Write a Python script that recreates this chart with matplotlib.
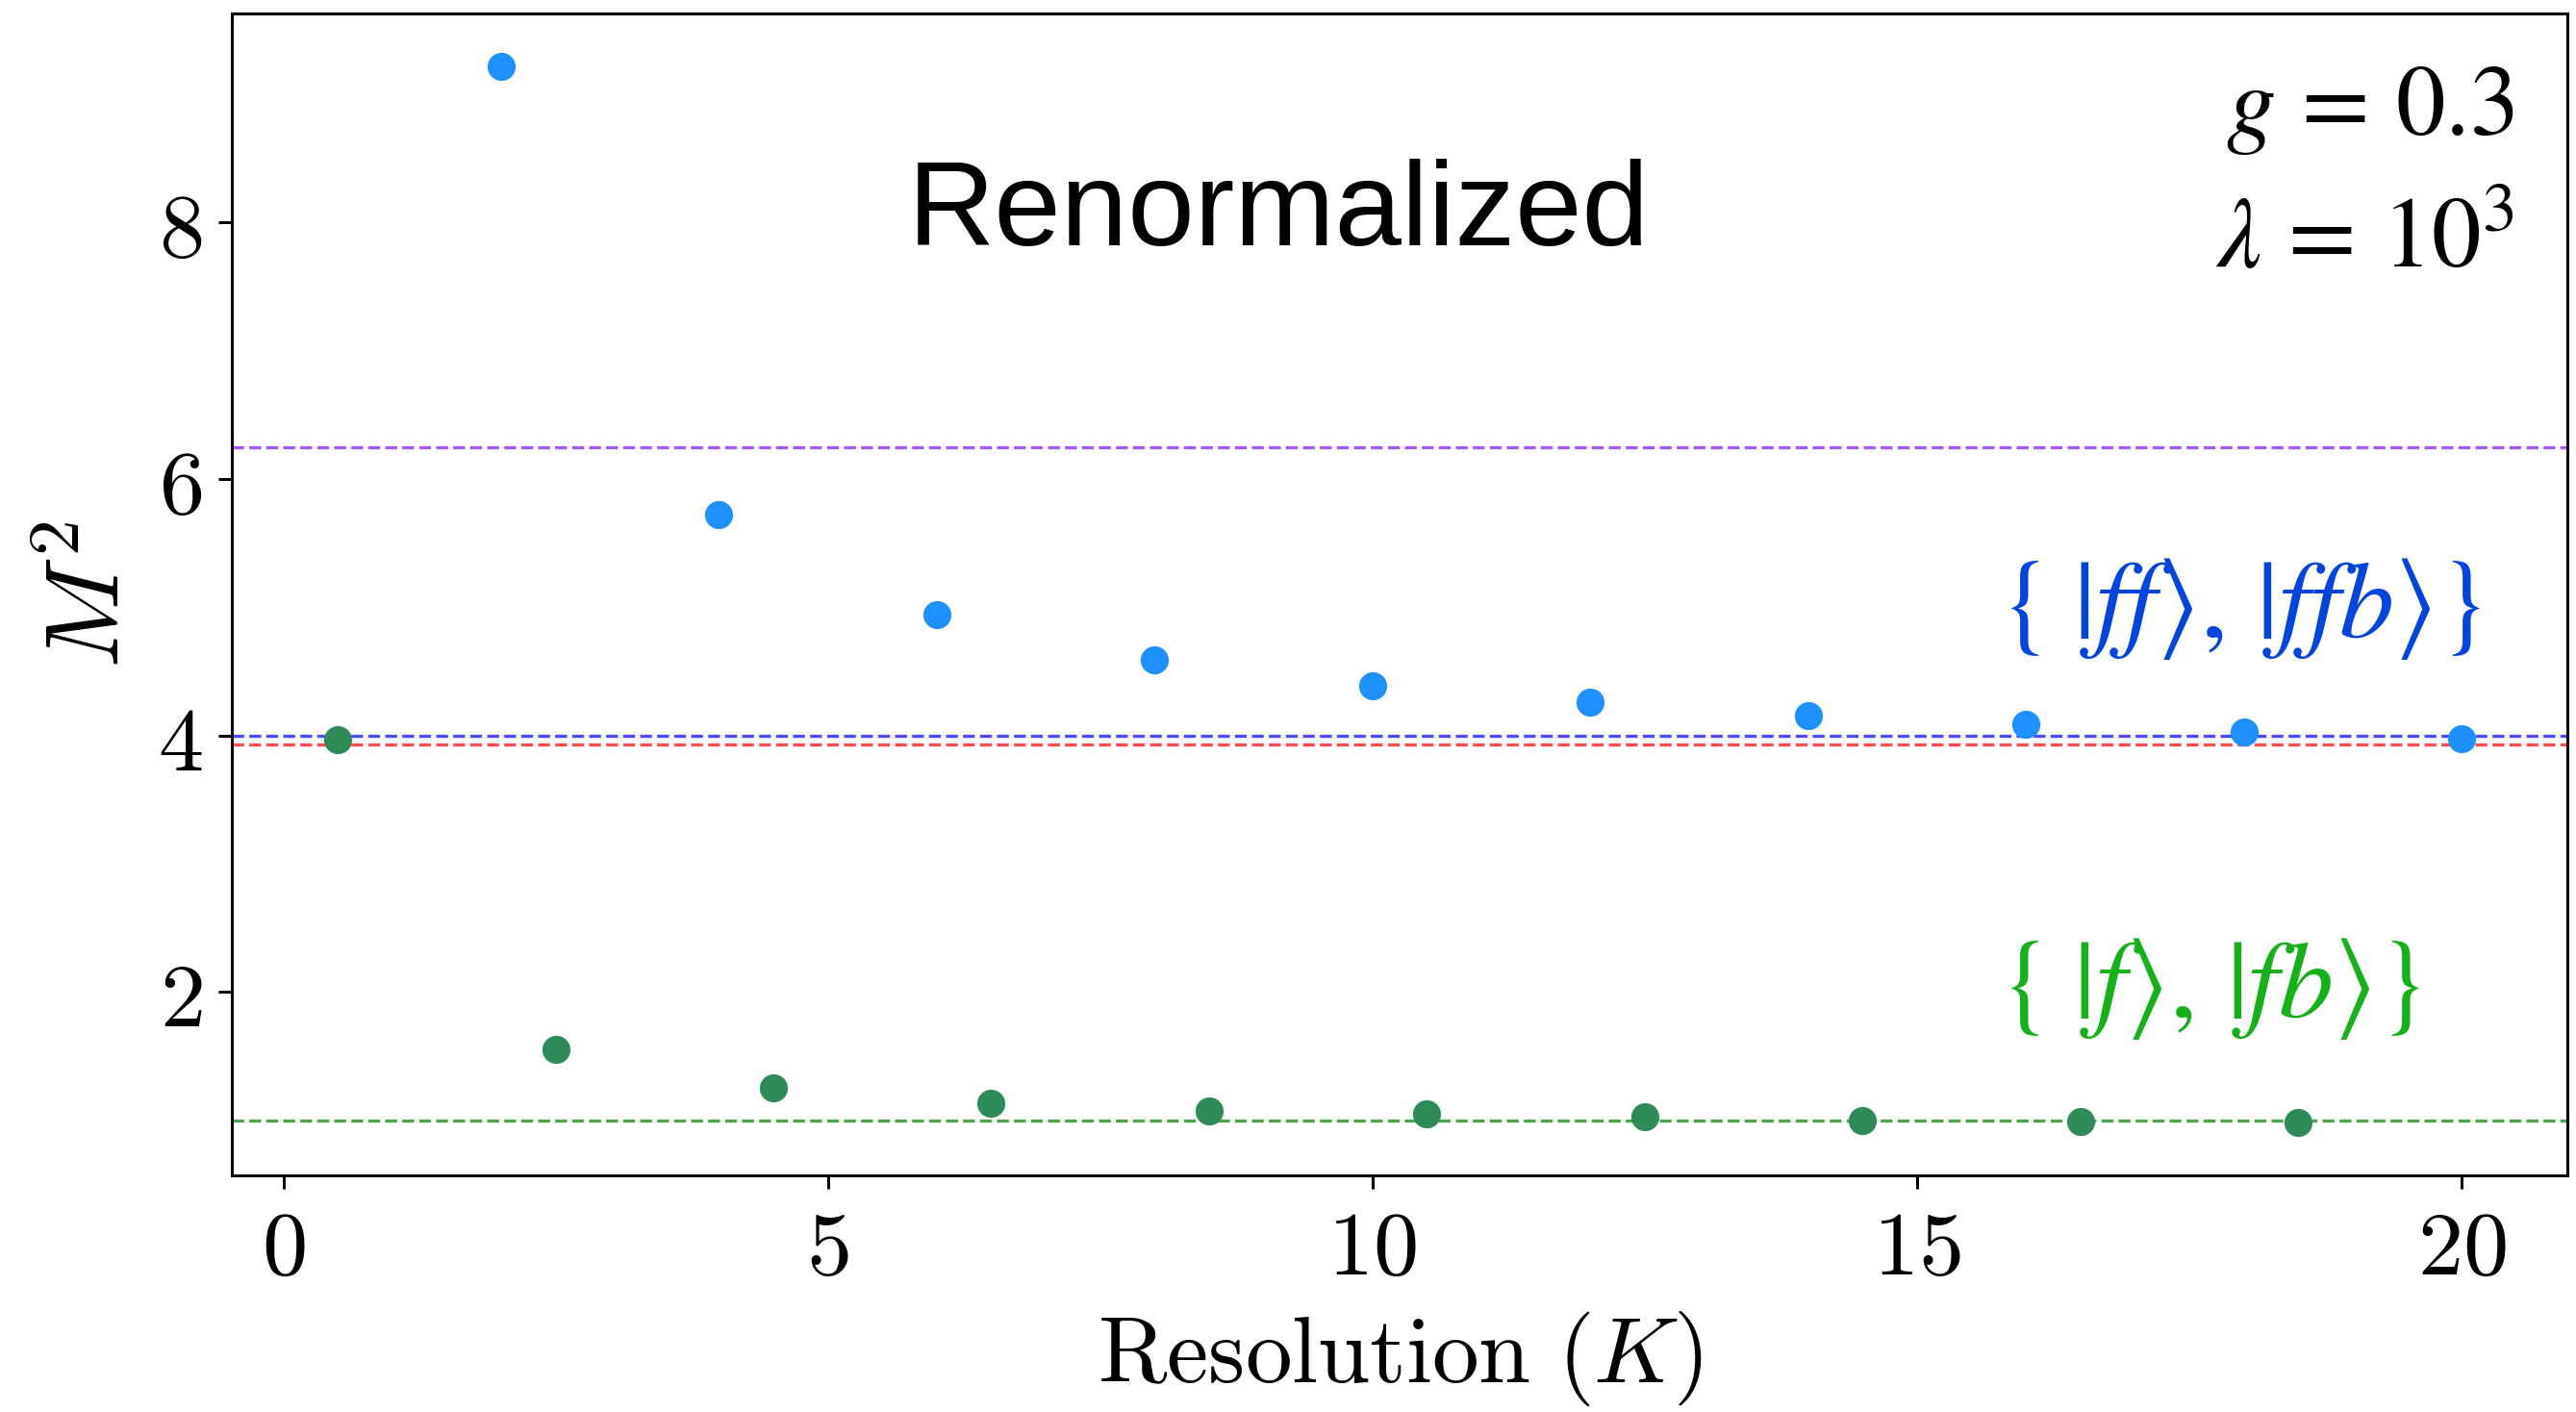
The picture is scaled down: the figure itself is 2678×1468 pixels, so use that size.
import matplotlib
matplotlib.use("Agg")
import matplotlib.pyplot as plt
from matplotlib.ticker import FuncFormatter

plt.rcParams['mathtext.fontset'] = 'cm'

# Two-particle sector {|ff>, |ffb>}: even resolutions
K_even = [2, 4, 6, 8, 10, 12, 14, 16, 18, 20]
M2_even = [9.22, 5.72, 4.94, 4.59, 4.39, 4.26, 4.155, 4.09, 4.03, 3.975]

# One-particle sector {|f>, |fb>}: half-integer resolutions
K_odd = [0.5, 2.5, 4.5, 6.5, 8.5, 10.5, 12.5, 14.5, 16.5, 18.5]
M2_odd = [3.97, 1.55, 1.25, 1.135, 1.075, 1.05, 1.025, 1.0, 0.99, 0.98]

# Reference levels (dashed)
ref_levels = [6.25, 4.0, 3.93, 1.0]
ref_colors = ['#a55af4', '#4d4dff', '#ff4d4d', '#4da64d']

x_ticks = [0, 5, 10, 15, 20]
y_ticks = [2, 4, 6, 8]

fig = plt.figure(figsize=(13.39, 7.34), dpi=200)
ax = fig.add_axes([0.0899, 0.1674, 0.9069, 0.8233])

for lvl, col in zip(ref_levels, ref_colors):
    ax.axhline(lvl, color=col, ls='--', lw=1.2, zorder=1)

ax.plot(K_even, M2_even, 'o', color='dodgerblue', ms=10.5, mec='none', zorder=3)
ax.plot(K_odd, M2_odd, 'o', color='seagreen', ms=10.5, mec='none', zorder=3)

ax.set_xticks(x_ticks)
ax.set_yticks(y_ticks)
fmt = FuncFormatter(lambda v, p: r'$%d$' % v)
ax.xaxis.set_major_formatter(fmt)
ax.yaxis.set_major_formatter(fmt)
ax.tick_params(axis='both', labelsize=34, length=5, width=1.1, pad=6)
for sp in ax.spines.values():
    sp.set_linewidth(1.1)

ax.set_xlabel(r'$\mathrm{Resolution}\ (K)$', fontsize=35, labelpad=6)
ax.set_ylabel(r'$M^2$', fontsize=39, labelpad=6)

ax.text(0.448, 0.827, 'Renormalized', transform=ax.transAxes,
        ha='center', va='center', fontsize=45, family='Liberation Sans')
ax.text(0.977, 0.918, r'$g\,=\,0.3$', transform=ax.transAxes,
        ha='right', va='center', fontsize=37, math_fontfamily='stix')
ax.text(0.977, 0.805, r'$\lambda\,=\,10^3$', transform=ax.transAxes,
        ha='right', va='center', fontsize=37, math_fontfamily='stix')

ax.text(15.75, 4.99, r'$\{\;|ff\rangle,\,|ffb\rangle\}$', color='#0343df',
        ha='left', va='center', fontsize=41, math_fontfamily='stix')
ax.text(15.75, 2.03, r'$\{\;|f\rangle,\,|fb\rangle\}$', color='#15b01a',
        ha='left', va='center', fontsize=41, math_fontfamily='stix')

fig.savefig('out.png', dpi=200)
